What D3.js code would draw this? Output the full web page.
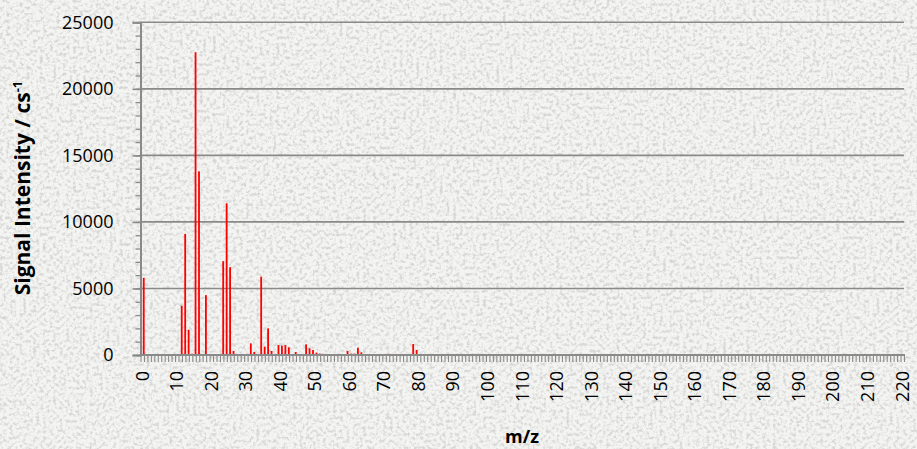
<!DOCTYPE html>
<html><head><meta charset="utf-8">
<script src="https://cdn.jsdelivr.net/npm/d3@7"></script>
<style>
html,body{margin:0;padding:0;background:#ebebe9;}
svg{display:block;}
text{font-family:"Open Sans","Liberation Sans",Arial,sans-serif;fill:#000;}
</style></head>
<body><svg id="chart" width="917" height="449"></svg>
<script>
// ---- data ----
const mzMin = 0, mzMax = 220;
const xTickLabels = [0,10,20,30,40,50,60,70,80,90,100,110,120,130,140,150,160,170,180,190,200,210,220];
const yTickValues = [0,5000,10000,15000,20000,25000];
const peakMz = [0,11,12,13,14,15,16,18,23,24,25,26,31,32,34,35,36,37,39,40,41,42,44,47,48,49,50,51,59,60,61,62,63,71,72,73,76,78,79,83,95,96];
const peakIntensity = [5800,3700,9100,1900,100,22750,13800,4500,7050,11400,6600,300,875,225,5880,625,2000,300,750,700,750,575,225,800,500,375,175,100,300,100,100,550,200,80,80,80,80,825,375,80,80,80];
const yTitle = "Signal Intensity / cs";
const yTitleSup = "-1";
const xTitle = "m/z";

// ---- layout ----
const W = 917, H = 449;
const plot = {left:140.5, right:904, top:22.3, bottom:355};
const svg = d3.select("#chart");

// background texture (granite-like)
const defs = svg.append("defs");
const f = defs.append("filter").attr("id","tex").attr("x",0).attr("y",0).attr("width","100%").attr("height","100%");
f.append("feTurbulence").attr("type","fractalNoise").attr("baseFrequency","0.3").attr("numOctaves",3).attr("seed",11).attr("result","n");
f.append("feColorMatrix").attr("in","n").attr("type","matrix")
 .attr("values","0 0 0 0 0.5  0 0 0 0 0.5  0 0 0 0 0.49  -3.2 0 0 0 1.75");
svg.append("rect").attr("width",W).attr("height",H).attr("fill","#f4f4f2");
svg.append("rect").attr("width",W).attr("height",H).attr("filter","url(#tex)").attr("opacity",0.55);

// scales
const categories = d3.range(mzMin, mzMax + 1);
const x = d3.scaleBand().domain(categories).range([plot.left, plot.right]).padding(0);
const xEdge = d3.scaleLinear().domain([0, categories.length]).range([plot.left, plot.right]);
const y = d3.scaleLinear().domain([0,25000]).range([plot.bottom, plot.top]);
const gray = "#8a8a8a";
const tickFont = "18px";

// gridlines
svg.append("g").selectAll("line").data(yTickValues.filter(v=>v>0)).join("line")
  .attr("x1",plot.left).attr("x2",plot.right)
  .attr("y1",d=>y(d)).attr("y2",d=>y(d))
  .attr("stroke",gray).attr("stroke-width",1.6);

// y axis minor ticks
const yMinor = svg.append("g").attr("transform",`translate(${plot.left},0)`)
  .call(d3.axisLeft(y).tickValues(d3.range(0,25001,1000)).tickSize(5).tickFormat(""));
yMinor.select(".domain").remove();
yMinor.selectAll("line").attr("stroke",gray).attr("stroke-width",1.3);
// y axis major
const yAx = svg.append("g").attr("transform",`translate(${plot.left},0)`)
  .call(d3.axisLeft(y).tickValues(yTickValues).tickSize(8).tickPadding(19).tickFormat(d3.format("d")));
yAx.select(".domain").attr("stroke",gray).attr("stroke-width",2);
yAx.selectAll("line").attr("stroke",gray).attr("stroke-width",1.6);
yAx.selectAll("text").attr("font-size",tickFont).attr("fill","#000").attr("font-family",'"Open Sans",sans-serif');

// bars
svg.append("g").selectAll("rect").data(peakMz.map((m,i)=>({m, v:peakIntensity[i]}))).join("rect")
  .attr("x",d=>x(d.m)+x.bandwidth()/2+0.6)
  .attr("width",1.8)
  .attr("y",d=>y(d.v))
  .attr("height",d=>plot.bottom - y(d.v))
  .attr("fill","#ff0000");

// x axis comb ticks
const xComb = svg.append("g").attr("transform",`translate(0,${plot.bottom})`)
  .call(d3.axisBottom(xEdge).tickValues(d3.range(0, categories.length + 1)).tickSize(7).tickFormat(""));
xComb.select(".domain").remove();
xComb.selectAll("line").attr("stroke",gray).attr("stroke-width",1.1);
svg.append("line").attr("x1",plot.left-1).attr("x2",plot.right+1)
  .attr("y1",plot.bottom).attr("y2",plot.bottom).attr("stroke",gray).attr("stroke-width",2);

// x labels
const xLab = svg.append("g").attr("transform",`translate(0,${plot.bottom})`)
  .call(d3.axisBottom(x).tickValues(xTickLabels).tickSize(0).tickPadding(0));
xLab.select(".domain").remove();
xLab.selectAll("text")
  .attr("font-size",tickFont).attr("fill","#000").attr("font-family",'"Open Sans",sans-serif')
  .attr("text-anchor","end").attr("dy","0.35em")
  .attr("transform","translate(0,16) rotate(-90)")
  .attr("y",0).attr("x",0);

// titles
const yt = svg.append("text").attr("transform","translate(30,188) rotate(-90)")
  .attr("text-anchor","middle").attr("font-weight","bold").attr("font-size","21px");
yt.append("tspan").text(yTitle);
yt.append("tspan").attr("font-size","13px").attr("dy","-8").text(yTitleSup);
svg.append("text").attr("x",522).attr("y",443).attr("text-anchor","middle")
  .attr("font-weight","bold").attr("font-size","18px").text(xTitle);
</script></body></html>
